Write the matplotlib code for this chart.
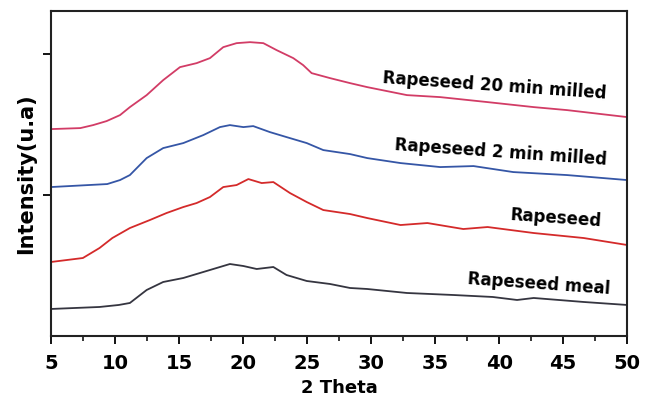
import matplotlib.pyplot as plt

# XRD patterns (offset traces, arbitrary units)
theta_20min = [5, 7.3, 8.3, 9.35, 10.4, 11.17, 12.48, 13.77, 15.08, 16.38, 17.42, 18.46,
               19.5, 20.55, 21.59, 22.63, 23.93, 24.7, 25.36, 26.8, 28.36, 29.7,
               32.8, 35.4, 39.1, 42.7, 45.3, 50]
int_20min = [207, 208, 211, 215, 221, 229, 241, 256, 269, 273, 278, 289,
             293, 294, 293, 286, 278, 271, 263, 258, 253, 249,
             241, 239, 234, 229, 226, 219]

theta_2min = [5, 9.4, 10.4, 11.17, 12.48, 13.77, 15.34, 16.9, 18.2, 18.98, 20.03, 20.8,
              22.1, 23.4, 24.98, 26.27, 28.36, 29.7, 32.3, 35.4, 38, 41.1, 45.3, 50]
int_2min = [149, 152, 156, 161, 178, 188, 193, 201, 209, 211, 209, 210,
            204, 199, 193, 186, 182, 178, 173, 169, 170, 164, 161, 156]

theta_seed = [5, 7.5, 8.8, 9.8, 11.17, 12.73, 14.03, 15.34, 16.38, 17.42, 18.46, 19.5,
              20.42, 21.46, 22.37, 23.67, 24.98, 26.27, 28.36, 29.7, 32.3, 34.4,
              37.2, 39.1, 42.7, 46.6, 50]
int_seed = [74, 78, 88, 98, 108, 116, 123, 129, 133, 139, 149, 151,
            157, 153, 154, 143, 134, 126, 122, 118, 111, 113,
            107, 109, 103, 98, 91]

theta_meal = [5, 8.8, 10.3, 11.17, 12.48, 13.77, 15.34, 16.9, 18.2, 18.98, 20.03, 21.07,
              22.37, 23.4, 24.98, 26.8, 28.36, 29.7, 32.8, 36.4, 39.5, 41.4, 42.7, 46.6, 50]
int_meal = [27, 29, 31, 33, 46, 54, 58, 64, 69, 72, 70, 67,
            69, 61, 55, 52, 48, 47, 43, 41, 39, 36, 38, 34, 31]

labels = ["Rapeseed 20 min milled", "Rapeseed 2 min milled", "Rapeseed", "Rapeseed meal"]
colors = ["#d23c66", "#3556a6", "#d42a2a", "#353540"]

fig = plt.figure(figsize=(6.52, 3.99), dpi=100)
ax = fig.add_axes([0.078, 0.158, 0.884, 0.814])

series = [(theta_20min, int_20min), (theta_2min, int_2min),
          (theta_seed, int_seed), (theta_meal, int_meal)]
for (x, y), c in zip(series, colors):
    ax.plot(x, y, color=c, lw=1.3)

# curve labels, slightly tilted like the original
label_pos = [(39.6, 250), (40.1, 184), (44.4, 118), (43.1, 52)]
for text, (lx, ly) in zip(labels, label_pos):
    ax.text(lx, ly, text, ha="center", va="center", fontsize=12,
            fontweight="bold", rotation=-4, rotation_mode="anchor")

ax.set_xlim(5, 50)
ax.set_ylim(0, 325)
ax.set_xticks(range(5, 51, 5))
ax.set_xticks([x + 2.5 for x in range(5, 50, 5)], minor=True)
ax.set_yticks([141, 282])
ax.set_yticklabels([])
ax.tick_params(axis="x", which="major", length=6, width=1.3, labelsize=14, pad=7)
ax.tick_params(axis="x", which="minor", length=3.5, width=1.1)
ax.tick_params(axis="y", length=6, width=1.3)
for lab in ax.get_xticklabels():
    lab.set_fontweight("bold")

for s in ax.spines.values():
    s.set_linewidth(1.5)
    s.set_color("#222222")

ax.set_xlabel("2 Theta", fontsize=13, fontweight="bold", labelpad=4)
ax.set_ylabel("Intensity(u.a)", fontsize=15, fontweight="bold")
ax.yaxis.set_label_coords(-0.025, 0.5)

fig.savefig("out.png", dpi=100)
